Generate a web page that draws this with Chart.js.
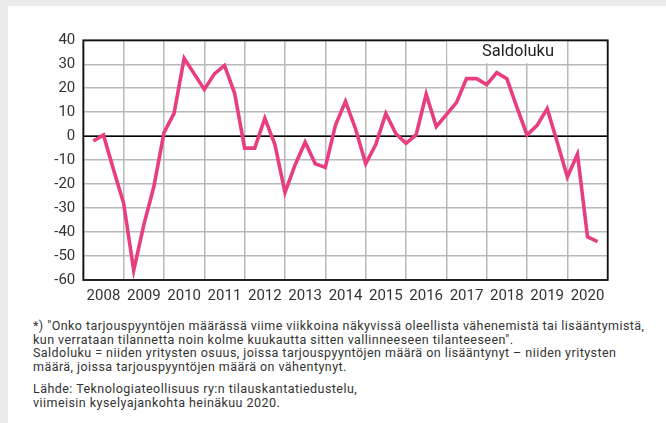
<!DOCTYPE html>
<html>
<head>
<meta charset="utf-8">
<script src="https://cdn.jsdelivr.net/npm/chart.js@4/dist/chart.umd.min.js"></script>
<style>
  html, body { margin: 0; padding: 0; background: #ffffff; width: 666px; height: 423px; overflow: hidden; }
  .strip { position: absolute; background: #ececec; }
  #wrap { position: absolute; left: 8px; top: 6px; width: 658px; height: 296px; }
  #note { position: absolute; left: 33px; top: 319px; font-family: Roboto, sans-serif; font-size: 12.5px; letter-spacing: 0.45px; line-height: 13.6px; color: #333; white-space: nowrap; }
  #note p { margin: 0; }
  #note p + p { margin-top: 9px; }
</style>
</head>
<body>
<div class="strip" style="left:0;top:0;width:666px;height:6px"></div>
<div class="strip" style="left:0;top:0;width:8px;height:423px"></div>
<div id="wrap"><canvas id="c"></canvas></div>
<div id="note">
  <p>*) "Onko tarjouspyyntöjen määrässä viime viikkoina näkyvissä oleellista vähenemistä tai lisääntymistä,<br>kun verrataan tilannetta noin kolme kuukautta sitten vallinneeseen tilanteeseen".<br>Saldoluku = niiden yritysten osuus, joissa tarjouspyyntöjen määrä on lisääntynyt – niiden yritysten<br>määrä, joissa tarjouspyyntöjen määrä on vähentynyt.</p>
  <p>Lähde: Teknologiateollisuus ry:n tilauskantatiedustelu,<br>viimeisin kyselyajankohta heinäkuu 2020.</p>
</div>
<script>
const years = ['2008','2009','2010','2011','2012','2013','2014','2015','2016','2017','2018','2019','2020'];
const seriesLabel = 'Saldoluku';
// quarterly balance figures, first point Q1/2008 .. last Q3/2020
const saldoluku = [-2, 0.5, -14, -28, -56, -37, -21, 1.5, 9.5, 32.5,
  26, 19.5, 26, 29.5, 18, -5, -5, 7.5, -3.5, -23.5,
  -12, -2.5, -11.5, -13, 4.5, 14.5, 3, -11.5, -3.5, 9.5,
  1, -3, 0.5, 17.5, 4, 9, 14, 24, 24, 21.5,
  26.5, 24, 12, 0.5, 4.5, 11.5, -2.5, -17, -7.5, -42, -44];
const yTicks = [-60, -50, -40, -30, -20, -10, 0, 10, 20, 30, 40];

const points = saldoluku.map((v, i) => ({ x: i + 1, y: v }));
const nQ = years.length * 4;

const frame = {
  id: 'frame',
  beforeDatasetsDraw(chart) {
    const { ctx, chartArea: a, scales } = chart;
    const x = scales.x, y = scales.y;
    ctx.save();
    ctx.fillStyle = '#ffffff';
    const l = x.getPixelForValue(36) + 1, r = x.getPixelForValue(48) - 1;
    const t = a.top + 1, b = y.getPixelForValue(30) - 1;
    ctx.fillRect(l, t, r - l, b - t);
    ctx.fillStyle = '#222';
    ctx.font = '16.5px Roboto, sans-serif';
    ctx.textAlign = 'center';
    ctx.textBaseline = 'middle';
    ctx.fillText(seriesLabel, x.getPixelForValue(43.1), y.getPixelForValue(35));
    ctx.strokeStyle = '#000';
    ctx.lineWidth = 1.6;
    const z = y.getPixelForValue(0);
    ctx.beginPath(); ctx.moveTo(a.left, z); ctx.lineTo(a.right, z); ctx.stroke();
    ctx.lineWidth = 1.8;
    ctx.strokeStyle = '#111';
    ctx.strokeRect(a.left, a.top, a.right - a.left, a.bottom - a.top);
    ctx.restore();
  }
};

new Chart(document.getElementById('c'), {
  type: 'line',
  data: {
    datasets: [{
      label: seriesLabel,
      data: points,
      borderColor: '#e83e80',
      borderWidth: 3.6,
      pointRadius: 0,
      tension: 0,
      fill: false,
      borderJoinStyle: 'miter'
    }]
  },
  options: {
    responsive: true,
    maintainAspectRatio: false,
    animation: false,
    devicePixelRatio: 1,
    layout: { padding: { top: 34.3, right: 58.3, left: 0, bottom: 0 } },
    plugins: { legend: { display: false }, tooltip: { enabled: false } },
    scales: {
      x: {
        type: 'linear',
        min: 0,
        max: nQ,
        border: { display: false },
        grid: {
          drawTicks: false,
          lineWidth: 1.5,
          color: (c) => (c.tick && c.tick.value % 4 === 0) ? '#b8b8b8' : 'rgba(0,0,0,0)'
        },
        ticks: {
          stepSize: 2,
          autoSkip: false,
          maxRotation: 0,
          padding: 7,
          color: '#333',
          font: { family: 'Roboto, sans-serif', size: 15 },
          callback: (v) => (v % 4 === 2) ? years[(v - 2) / 4] : ''
        },
        afterFit: (s) => { s.height = 22; }
      },
      y: {
        min: -60,
        max: 40,
        border: { display: false },
        afterBuildTicks: (s) => { s.ticks = yTicks.map(v => ({ value: v })); },
        grid: { drawTicks: false, lineWidth: 1.5, color: '#b8b8b8' },
        ticks: {
          padding: 8,
          color: '#333',
          font: { family: 'Roboto, sans-serif', size: 15 }
        },
        afterFit: (s) => { s.width = 75.3; }
      }
    }
  },
  plugins: [frame]
});
</script>
</body>
</html>
